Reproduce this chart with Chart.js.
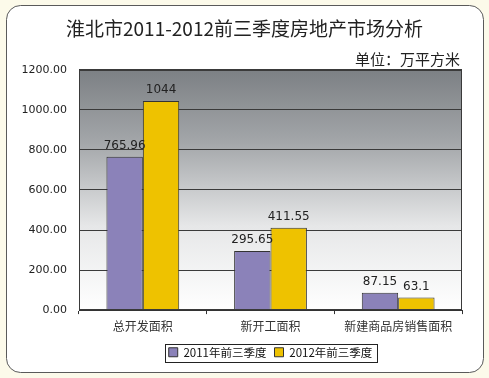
<!DOCTYPE html>
<html><head><meta charset="utf-8">
<script src="https://cdn.jsdelivr.net/npm/chart.js@4/dist/chart.umd.min.js"></script>
<style>html,body{margin:0;padding:0;background:#fcfaea;}#c{display:block;}</style>
</head><body>
<canvas id="c" width="489" height="378"></canvas>
<script>
const categories = ['总开发面积', '新开工面积', '新建商品房销售面积'];
const series2011 = [765.96, 295.65, 87.15];
const series2012 = [1044, 411.55, 63.1];
const seriesNames = ['2011年前三季度', '2012年前三季度'];
const titleText = '淮北市2011-2012前三季度房地产市场分析';
const unitText = '单位：万平方米';
const CJK = '"Noto Sans CJK SC", "Noto Sans", sans-serif';
const NUM = '"DejaVu Sans", sans-serif';

const decor = {
  id: 'decor',
  beforeDraw(chart) {
    const ctx = chart.ctx, a = chart.chartArea;
    ctx.save();
    ctx.fillStyle = '#fcfaea';
    ctx.fillRect(0, 0, chart.width, chart.height);
    const x = 6.5, y = 5.5, w = 477, h = 367, r = 14;
    ctx.beginPath();
    ctx.moveTo(x + r, y); ctx.lineTo(x + w - r, y); ctx.arcTo(x + w, y, x + w, y + r, r);
    ctx.lineTo(x + w, y + h - r); ctx.arcTo(x + w, y + h, x + w - r, y + h, r);
    ctx.lineTo(x + r, y + h); ctx.arcTo(x, y + h, x, y + h - r, r);
    ctx.lineTo(x, y + r); ctx.arcTo(x, y, x + r, y, r); ctx.closePath();
    ctx.fillStyle = '#ffffff'; ctx.fill();
    ctx.strokeStyle = '#5a5a5a'; ctx.lineWidth = 1; ctx.stroke();
    const g = ctx.createLinearGradient(0, a.top, 0, a.bottom);
    g.addColorStop(0, '#7c8084');
    g.addColorStop(0.3, '#a3a6a9');
    g.addColorStop(0.65, '#e6e7e8');
    g.addColorStop(1, '#ffffff');
    ctx.fillStyle = g;
    ctx.fillRect(a.left, a.top, a.right - a.left, a.bottom - a.top);
    ctx.restore();
  },
  afterDraw(chart) {
    const ctx = chart.ctx, a = chart.chartArea;
    ctx.save();
    ctx.strokeStyle = '#3a3a3a'; ctx.lineWidth = 1;
    ctx.strokeRect(Math.round(a.left) + 0.5, Math.round(a.top) + 0.5, Math.round(a.right - a.left) - 1, Math.round(a.bottom - a.top) - 1);
    ctx.font = '15px ' + CJK; ctx.fillStyle = '#222'; ctx.textAlign = 'right'; ctx.textBaseline = 'middle';
    ctx.fillText(unitText, 460, 59);
    const lg = chart.legend;
    if (lg && lg.legendHitBoxes && lg.legendHitBoxes.length) {
      const hb = lg.legendHitBoxes;
      let l = Infinity, r = -Infinity, t = Infinity, b = -Infinity;
      hb.forEach(h => { l = Math.min(l, h.left); r = Math.max(r, h.left + h.width); t = Math.min(t, h.top); b = Math.max(b, h.top + h.height); });
      ctx.strokeStyle = '#222';
      ctx.strokeRect(Math.round(l - 4) + 0.5, Math.round(t - 3) + 0.5, Math.round(r - l + 8), Math.round(b - t + 6));
    }
    ctx.restore();
  },
  afterDatasetsDraw(chart) {
    const ctx = chart.ctx;
    ctx.save();
    ctx.font = '12px ' + NUM; ctx.fillStyle = '#222'; ctx.textAlign = 'center'; ctx.textBaseline = 'bottom';
    chart.data.datasets.forEach((ds, i) => {
      chart.getDatasetMeta(i).data.forEach((bar, j) => {
        ctx.fillText(String(ds.data[j]), bar.x, bar.y - 5);
      });
    });
    ctx.restore();
  }
};

new Chart(document.getElementById('c'), {
  type: 'bar',
  data: {
    labels: categories,
    datasets: [
      { label: seriesNames[0], data: series2011, backgroundColor: '#8b82b9', borderColor: '#333', borderWidth: 1, yAxisID: 'y' },
      { label: seriesNames[1], data: series2012, backgroundColor: '#eec200', borderColor: '#333', borderWidth: 1, yAxisID: 'y' }
    ]
  },
  options: {
    responsive: false, animation: false, devicePixelRatio: 1,
    categoryPercentage: 0.57, barPercentage: 1,
    layout: { padding: { left: 0, right: 0, top: 0, bottom: 10 } },
    plugins: {
      title: { display: true, text: titleText, color: '#222', font: { family: CJK, size: 19, weight: 'normal' }, padding: { top: 17, bottom: 30 } },
      legend: { position: 'bottom', fullSize: false, labels: { color: '#111', font: { family: CJK, size: 11.5 }, boxWidth: 9, boxHeight: 9, padding: 8, useBorderRadius: false,
        generateLabels(chart) {
          return chart.data.datasets.map((d, i) => ({ text: d.label, fillStyle: d.backgroundColor, strokeStyle: '#333', lineWidth: 1, datasetIndex: i, fontColor: '#111' }));
        } } },
      tooltip: { enabled: false }
    },
    scales: {
      x: {
        grid: { display: true, offset: true, drawOnChartArea: false, drawTicks: true, tickLength: 4, color: '#333' },
        border: { color: '#333' },
        ticks: { color: '#333', font: { family: CJK, size: 12 }, padding: 5 }
      },
      y: {
        min: 0, max: 1200,
        grid: { color: '#3a3a3a', drawTicks: false },
        border: { color: '#333' },
        ticks: { stepSize: 200, color: '#222', font: { family: NUM, size: 11 }, padding: 12, callback: v => Number(v).toFixed(2) },
        afterFit(s) { s.width = 79; }
      },
      y2: {
        position: 'right', min: 0, max: 1200,
        grid: { display: false, drawTicks: false }, border: { display: false },
        ticks: { display: false },
        afterFit(s) { s.width = 27; }
      }
    }
  },
  plugins: [decor]
});
</script>
</body></html>
